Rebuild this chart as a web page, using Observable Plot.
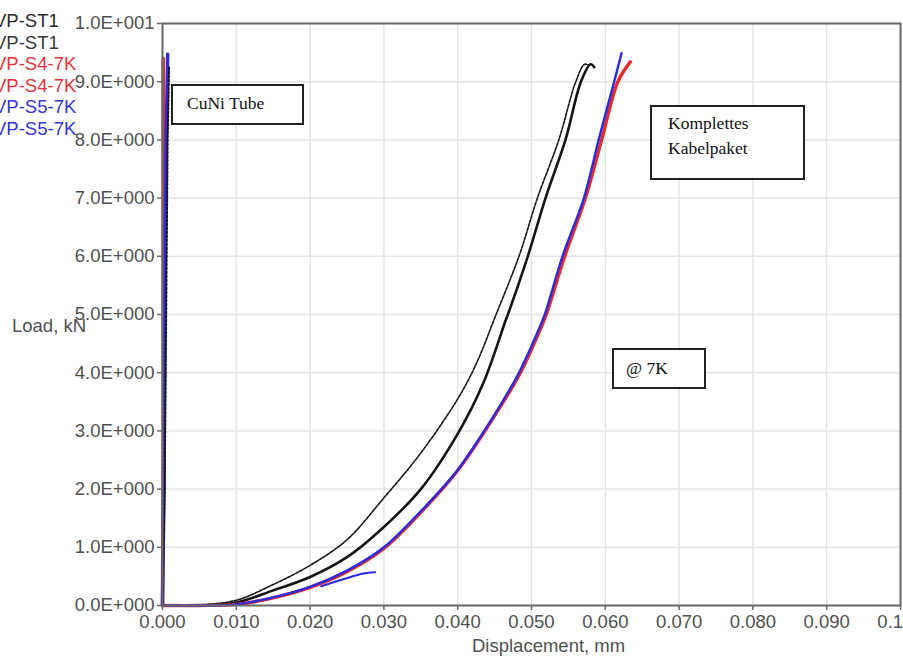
<!DOCTYPE html>
<html>
<head>
<meta charset="utf-8">
<script src="https://cdn.jsdelivr.net/npm/d3@7"></script>
<script src="https://cdn.jsdelivr.net/npm/@observablehq/plot@0.6"></script>
<style>
  html, body { margin: 0; padding: 0; background: #fff; overflow: hidden; }
  #wrap { position: relative; width: 903px; height: 657px; overflow: hidden; }
  #chart svg { display: block; }
  .legend { position: absolute; left: -6px; top: 10px; font-family: "Liberation Sans", Arial, sans-serif; font-size: 18.5px; line-height: 21.5px; }
  .axt { position: absolute; font-family: "Liberation Sans", Arial, sans-serif; font-size: 18.5px; color: #505050; white-space: nowrap; }
  .note { position: absolute; box-sizing: border-box; border: 2px solid #222; background: #fff;
          font-family: "Liberation Serif", "Times New Roman", serif; font-size: 17.5px; color: #111; white-space: nowrap; }
</style>
</head>
<body>
<div id="wrap">
  <div id="chart"></div>
</div>
<script>
// ---- data ----
const seriesNames = ["VP-ST1", "VP-ST1", "VP-S4-7K", "VP-S4-7K", "VP-S5-7K", "VP-S5-7K"];

const xTicks = [0, 0.01, 0.02, 0.03, 0.04, 0.05, 0.06, 0.07, 0.08, 0.09, 0.1];
const xTickLabels = ["0.000", "0.010", "0.020", "0.030", "0.040", "0.050", "0.060", "0.070", "0.080", "0.090", "0.100"];
const yTicks = [0, 1, 2, 3, 4, 5, 6, 7, 8, 9, 10];
const yTickLabels = ["0.0E+000", "1.0E+000", "2.0E+000", "3.0E+000", "4.0E+000", "5.0E+000",
                     "6.0E+000", "7.0E+000", "8.0E+000", "9.0E+000", "1.0E+001"];

// CuNi tube (nearly vertical traces at zero displacement) [displacement mm, load kN]
const tubeST1 = [[0, 0], [0.0003, 2], [0.0005, 5], [0.0007, 8], [0.0009, 9.26]];
const tubeS4  = [[0, 0], [0.0001, 3], [0.0001, 6], [0.0001, 8.5], [0.0001, 9.4]];
const tubeS5  = [[0, 0], [0.0002, 2], [0.0003, 5], [0.0005, 8], [0.0007, 9.47]];

// Complete cable bundle (Komplettes Kabelpaket)
const cableST1a = [[0, 0], [0.005, 0.01], [0.010, 0.09], [0.015, 0.36], [0.020, 0.69], [0.025, 1.13],
  [0.030, 1.85], [0.035, 2.62], [0.040, 3.55], [0.0425, 4.15], [0.0452, 5.0], [0.0483, 6.0],
  [0.0508, 7.0], [0.0537, 8.0], [0.0560, 9.0], [0.0572, 9.3], [0.0578, 9.28]];
const cableST1b = [[0, 0], [0.005, 0.0], [0.010, 0.05], [0.015, 0.26], [0.020, 0.49], [0.025, 0.83],
  [0.030, 1.35], [0.035, 2.0], [0.040, 2.95], [0.0434, 3.8], [0.0465, 4.9], [0.0468, 5.0],
  [0.0495, 6.0], [0.0519, 7.0], [0.0546, 8.0], [0.0567, 9.0], [0.0580, 9.3], [0.0585, 9.25]];
const cableS4 = [[0, 0], [0.005, 0], [0.010, 0.02], [0.015, 0.13], [0.020, 0.31], [0.025, 0.58],
  [0.030, 0.98], [0.035, 1.6], [0.040, 2.32], [0.0448, 3.22], [0.0485, 4.0], [0.0512, 4.75],
  [0.0520, 5.0], [0.0545, 6.0], [0.0573, 7.0], [0.0595, 8.0], [0.0617, 9.0], [0.0634, 9.34]];
const cableS5 = [[0, 0], [0.005, 0], [0.010, 0.02], [0.015, 0.14], [0.020, 0.32], [0.025, 0.60],
  [0.030, 1.0], [0.035, 1.62], [0.040, 2.33], [0.0447, 3.22], [0.0483, 4.0], [0.0510, 4.75],
  [0.0518, 5.0], [0.0542, 6.0], [0.0571, 7.0], [0.0591, 8.0], [0.0612, 9.0], [0.0622, 9.49]];
const cableS5tail = [[0.0215, 0.33], [0.0245, 0.45], [0.0272, 0.55], [0.0288, 0.57]];

const noteTexts = ["CuNi Tube", "Komplettes\nKabelpaket", "@ 7K"];

// ---- styles ----
const legendColors = ["#2b2b2b", "#3a3a3a", "#e8313a", "#e8313a", "#3535d6", "#3535d6"];
const cBlack = "#151515", cRed = "#e82a2a", cBlue = "#2a2ae0";

const rows = (arr, s) => arr.map(([x, y]) => ({x, y, s}));
const fontAx = "'Liberation Sans', Arial, sans-serif";

const chart = Plot.plot({
  width: 903, height: 657,
  marginLeft: 162, marginRight: 3, marginTop: 23, marginBottom: 52,
  x: {domain: [0, 0.1]},
  y: {domain: [0, 10]},
  style: {fontFamily: fontAx, fontSize: "18.5px", color: "#505050", background: "#fff"},
  marks: [
    Plot.gridX(xTicks, {stroke: "#e4e4e4", strokeOpacity: 1, strokeWidth: 1.5}),
    Plot.gridY(yTicks, {stroke: "#e4e4e4", strokeOpacity: 1, strokeWidth: 1.5}),
    Plot.line(rows(cableST1a, "a"), {x: "x", y: "y", stroke: cBlack, strokeWidth: 1.6, strokeDasharray: "3,1.5", curve: "catmull-rom"}),
    Plot.line(rows(cableST1b, "b"), {x: "x", y: "y", stroke: cBlack, strokeWidth: 2.6, curve: "catmull-rom"}),
    Plot.line(rows(cableS4, "r"), {x: "x", y: "y", stroke: cRed, strokeWidth: 3.4, curve: "catmull-rom"}),
    Plot.line(rows(cableS5, "b5"), {x: "x", y: "y", stroke: cBlue, strokeWidth: 2.4, curve: "catmull-rom"}),
    Plot.line(rows(cableS5tail, "t"), {x: "x", y: "y", stroke: cBlue, strokeWidth: 2, curve: "catmull-rom"}),
    Plot.line(rows(tubeS4, "tr"), {x: "x", y: "y", stroke: cRed, strokeWidth: 3.5}),
    Plot.line(rows(tubeS5, "tb"), {x: "x", y: "y", stroke: cBlue, strokeWidth: 3.5}),
    Plot.line(rows(tubeST1, "tk"), {x: "x", y: "y", stroke: cBlack, strokeWidth: 2, strokeDasharray: "2,2"}),
    Plot.frame({stroke: "#6a6a6a", strokeWidth: 2}),
    Plot.axisX(xTicks, {tickFormat: (d, i) => xTickLabels[i], tickSize: 5, tickPadding: 4, label: null, stroke: "#6a6a6a", strokeWidth: 1.5}),
    Plot.axisY(yTicks, {tickFormat: (d, i) => yTickLabels[i], tickSize: 5, tickPadding: 3, label: null, stroke: "#6a6a6a", strokeWidth: 1.5})
  ]
});
const wrap = document.getElementById("wrap");
document.getElementById("chart").append(chart);

// legend (clipped at the left edge as in the reference)
const leg = document.createElement("div");
leg.className = "legend";
seriesNames.forEach((n, i) => {
  const d = document.createElement("div");
  d.textContent = n;
  d.style.color = legendColors[i];
  leg.append(d);
});
wrap.append(leg);

// axis titles
function addText(txt, css) {
  const d = document.createElement("div");
  d.className = "axt";
  d.textContent = txt;
  Object.assign(d.style, css);
  wrap.append(d);
}
addText("Displacement, mm", {left: "472px", top: "635px"});
addText("Load, kN", {left: "12px", top: "315px"});

// annotation boxes
function addNote(txt, css, pad) {
  const d = document.createElement("div");
  d.className = "note";
  Object.assign(d.style, css);
  txt.split("\n").forEach(t => {
    const l = document.createElement("div");
    l.textContent = t;
    l.style.paddingLeft = pad;
    d.append(l);
  });
  wrap.append(d);
}
addNote(noteTexts[0], {left: "171px", top: "84px", width: "133px", height: "41px", paddingTop: "6px", lineHeight: "22px"}, "14px");
addNote(noteTexts[1], {left: "650px", top: "105px", width: "155px", height: "75px", paddingTop: "4px", lineHeight: "25px"}, "16px");
addNote(noteTexts[2], {left: "612px", top: "348px", width: "94px", height: "41px", paddingTop: "7px", lineHeight: "22px"}, "12px");
</script>
</body>
</html>
